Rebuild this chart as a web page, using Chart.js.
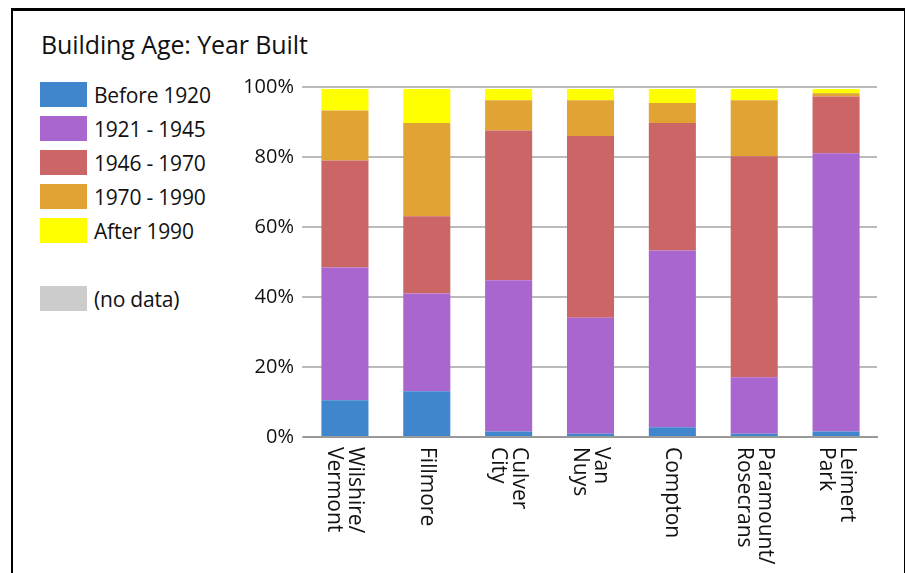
<!DOCTYPE html>
<html>
<head>
<meta charset="utf-8">
<script src="https://cdn.jsdelivr.net/npm/chart.js@4/dist/chart.umd.min.js"></script>
<style>
  html, body { margin:0; padding:0; background:#fff; }
  body { width:905px; height:573px; position:relative; overflow:hidden; font-family:"Open Sans", sans-serif; color:#111; }
  #frame { position:absolute; left:11px; top:8px; width:891px; height:620px;
           border-left:2px solid #000; border-top:3px solid #000; border-right:3px solid #000; pointer-events:none; }
  #title { position:absolute; left:41px; top:27px; font-size:25px; letter-spacing:-0.1px; white-space:nowrap; }
  #legend { position:absolute; left:40px; top:82px; }
  .leg-row { display:flex; align-items:center; height:25px; margin-bottom:9px; font-size:21px; letter-spacing:-0.2px; }
  .leg-box { width:47px; height:25px; margin-right:7px; }
  .leg-gap { height:34px; }
  canvas { position:absolute; left:0; top:0; }
</style>
</head>
<body>
<div id="title">Building Age: Year Built</div>
<div id="legend"></div>
<canvas id="chart" width="905" height="573"></canvas>
<div id="frame"></div>
<script>
/* =====================
   데이터
===================== */
const AREAS = [
  ["Wilshire/", "Vermont"],
  ["Fillmore"],
  ["Culver", "City"],
  ["Van", "Nuys"],
  ["Compton"],
  ["Paramount/", "Rosecrans"],
  ["Leimert", "Park"]
];

const BEFORE_1920 = [10.5, 13.1,  1.6,  0.9,  2.8,  0.9,  1.6];
const Y1921_1945  = [37.9, 27.9, 43.2, 33.2, 50.5, 16.2, 79.5];
const Y1946_1970  = [30.6, 22.1, 42.8, 51.9, 36.4, 63.1, 16.2];
const Y1970_1990  = [14.3, 26.6,  8.6, 10.2,  5.7, 16.0,  0.9];
const AFTER_1990  = [ 6.1,  9.7,  3.2,  3.2,  4.0,  3.2,  1.2];

const SERIES_LABELS = ["Before 1920", "1921 - 1945", "1946 - 1970", "1970 - 1990", "After 1990"];
const SERIES_COLORS = ["#3f86cc", "#a866ce", "#cc6666", "#e1a333", "#ffff00"];
const NO_DATA_LABEL = "(no data)";
const NO_DATA_COLOR = "#cccccc";

const Y_TICKS = [0, 20, 40, 60, 80, 100];

/* =====================
   범례 (HTML)
===================== */
function buildLegend(){
  const el = document.getElementById("legend");
  let html = "";
  SERIES_LABELS.forEach((lbl, i)=>{
    html += `<div class="leg-row"><div class="leg-box" style="background:${SERIES_COLORS[i]}"></div>${lbl}</div>`;
  });
  html += `<div class="leg-gap"></div>`;
  html += `<div class="leg-row"><div class="leg-box" style="background:${NO_DATA_COLOR}"></div>${NO_DATA_LABEL}</div>`;
  el.innerHTML = html;
}

/* =====================
   x축 라벨 (시계방향 90도)
===================== */
const LINE_H = 21;
const xLabels = {
  id: "xLabels",
  afterDraw(c){
    const ctx = c.ctx;
    const xs = c.scales.x;
    ctx.save();
    ctx.font = "21px 'Open Sans'";
    ctx.fillStyle = "#111";
    ctx.textAlign = "left";
    ctx.textBaseline = "middle";
    AREAS.forEach((lines, i)=>{
      const x = xs.getPixelForValue(i);
      ctx.save();
      ctx.translate(x, xs.top + 10);
      ctx.rotate(Math.PI / 2);
      lines.forEach((t, k)=>{
        ctx.fillText(t, 0, (k - (lines.length - 1) / 2) * LINE_H);
      });
      ctx.restore();
    });
    ctx.restore();
  }
};

/* =====================
   차트
===================== */
const allSeries = [BEFORE_1920, Y1921_1945, Y1946_1970, Y1970_1990, AFTER_1990];

const datasets = allSeries.map((data, i)=>({
  label: SERIES_LABELS[i],
  data: data,
  backgroundColor: SERIES_COLORS[i],
  borderWidth: 0,
  barPercentage: 0.575,
  categoryPercentage: 1.0
}));

buildLegend();

new Chart(document.getElementById("chart").getContext("2d"), {
  type: "bar",
  data: {
    labels: AREAS.map(a=>a.join(" ")),
    datasets: datasets
  },
  options: {
    responsive: false,
    animation: false,
    devicePixelRatio: 1,
    layout: { padding: { left: 214, top: 87, right: 28, bottom: 0 } },
    plugins: {
      legend: { display: false },
      title: { display: false },
      tooltip: { enabled: false }
    },
    scales: {
      x: {
        stacked: true,
        grid: { display: false },
        border: { display: true, color: "#999", width: 2 },
        ticks: { display: false },
        afterFit: s => { s.height = 136; }
      },
      y: {
        stacked: true,
        min: 0,
        max: 100,
        afterBuildTicks: s => { s.ticks = Y_TICKS.map(v=>({ value: v })); },
        grid: { color: "#bbbbbb", lineWidth: 2, tickLength: 2 },
        border: { display: false },
        ticks: {
          padding: 8,
          color: "#111",
          font: { size: 20, family: "'Open Sans'" },
          callback: v => v + "%"
        },
        afterFit: s => { s.width = 90; }
      }
    }
  },
  plugins: [xLabels]
});
</script>
</body>
</html>
